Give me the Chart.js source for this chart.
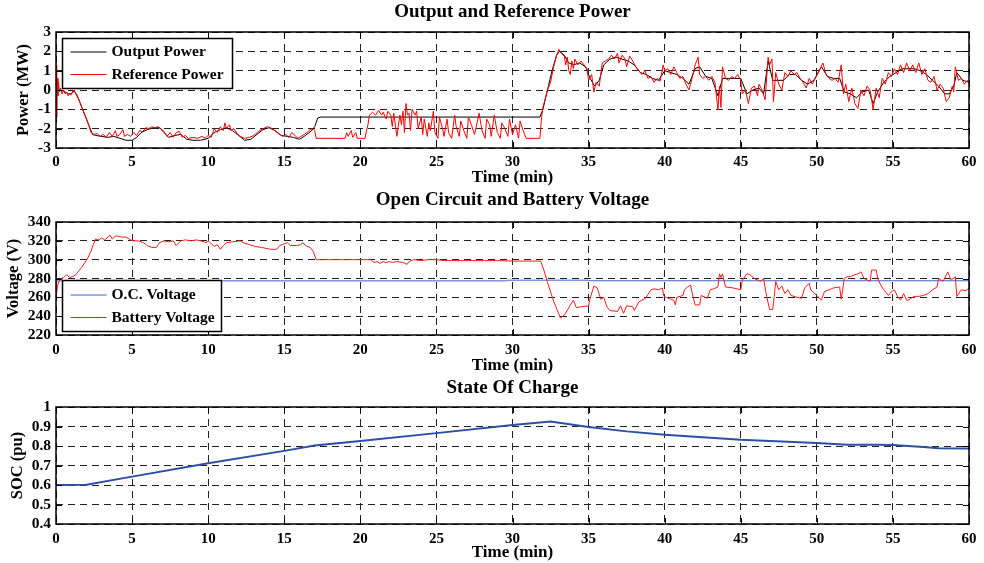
<!DOCTYPE html>
<html>
<head>
<meta charset="utf-8">
<script src="https://cdn.jsdelivr.net/npm/chart.js@4"></script>
<style>
  html, body { margin: 0; padding: 0; background: #fff; }
  .wrap { position: absolute; left: 0; width: 984px; }
</style>
</head>
<body>
<div class="wrap" style="top:0;height:188px"><canvas id="powerChart" width="984" height="188"></canvas></div>
<div class="wrap" style="top:188px;height:188px"><canvas id="voltChart" width="984" height="188"></canvas></div>
<div class="wrap" style="top:376px;height:187px"><canvas id="socChart" width="984" height="187"></canvas></div>
<script>
// ---- data ----
const timeTicks = [0, 5, 10, 15, 20, 25, 30, 35, 40, 45, 50, 55, 60];
const powerTicks = [-3, -2, -1, 0, 1, 2, 3];
const voltTicks = [220, 240, 260, 280, 300, 320, 340];
const socTicks = [0.4, 0.5, 0.6, 0.7, 0.8, 0.9, 1];

// Reference power (MW)
const refTime = [0,0.03,0.06,0.09,0.13,0.17,0.22,0.3,0.4,0.5,0.6,0.7,0.8,0.9,1.0,1.1,1.2,1.3,1.5,1.7,1.9,2.1,2.3,2.5,2.7,2.9,3.1,3.3,3.5,3.7,3.9,4.0,4.2,4.4,4.5,4.7,4.9,5.1,5.3,5.5,5.7,5.9,6.1,6.3,6.5,6.7,6.9,7.1,7.3,7.5,7.7,7.9,8.1,8.3,8.5,8.7,9.0,9.3,9.6,9.8,10.0,10.2,10.4,10.6,10.8,11.0,11.1,11.2,11.4,11.5,11.7,11.9,12.1,12.4,12.7,13.0,13.3,13.6,13.9,14.1,14.3,14.6,14.9,15.1,15.3,15.5,15.7,15.9,16.1,16.3,16.5,16.7,16.9,17.0,17.1,19.0,19.1,19.2,19.4,19.5,19.7,19.8,20.3,20.5,20.6,20.8,21.0,21.2,21.4,21.5,21.7,21.8,22.0,22.1,22.2,22.4,22.6,22.7,22.8,22.9,23.0,23.1,23.2,23.3,23.4,23.6,23.7,23.8,24.0,24.1,24.2,24.4,24.5,24.6,24.8,24.9,25.1,25.2,25.4,25.5,25.7,25.8,26.0,26.2,26.3,26.5,26.6,26.8,27.0,27.1,27.3,27.5,27.7,27.8,28.0,28.2,28.3,28.5,28.6,28.8,29.0,29.2,29.3,29.5,29.7,29.8,30.0,30.2,30.4,30.5,30.7,30.9,31.8,31.9,32.0,32.1,32.3,32.5,32.7,32.9,33.05,33.2,33.4,33.5,33.6,33.7,33.8,33.9,34.0,34.1,34.3,34.5,34.7,34.9,35.0,35.2,35.35,35.5,35.7,35.9,36.1,36.3,36.5,36.7,36.9,37.0,37.2,37.4,37.5,37.7,37.9,38.1,38.3,38.5,38.7,38.9,39.1,39.3,39.5,39.7,39.9,40.0,40.2,40.4,40.6,40.8,41.0,41.2,41.4,41.6,41.8,42.0,42.2,42.3,42.5,42.7,42.9,43.1,43.3,43.5,43.6,43.7,43.8,44.0,44.2,44.4,44.6,44.8,45.0,45.1,45.3,45.5,45.7,45.9,46.1,46.2,46.4,46.6,46.8,46.9,47.05,47.15,47.3,47.5,47.7,47.9,48.1,48.3,48.5,48.7,48.9,49.1,49.3,49.5,49.7,49.9,50.1,50.4,50.6,50.8,51.0,51.2,51.4,51.6,51.75,51.9,52.1,52.3,52.5,52.7,52.9,53.1,53.3,53.5,53.7,53.9,54.1,54.3,54.5,54.7,54.9,55.1,55.3,55.5,55.7,55.9,56.1,56.3,56.5,56.7,56.9,57.1,57.3,57.5,57.7,57.9,58.1,58.3,58.5,58.7,58.9,59.0,59.1,59.3,59.5,59.7,59.9,60.0];
const refPower = [0.0,1.3,-1.4,0.6,-0.3,0.4,-0.1,0.1,-0.2,0.0,-0.2,-0.1,-0.3,-0.2,-0.25,-0.05,0.0,-0.2,-0.5,-0.9,-1.3,-1.7,-2.2,-2.3,-2.25,-2.4,-2.3,-2.45,-2.2,-2.4,-2.1,-2.4,-2.3,-2.05,-2.4,-2.3,-2.4,-2.2,-2.35,-2.1,-2.15,-1.95,-2.0,-1.9,-1.95,-1.9,-2.0,-2.15,-2.4,-2.2,-2.45,-2.2,-2.15,-2.45,-2.35,-2.5,-2.45,-2.5,-2.4,-2.5,-2.35,-2.45,-2.0,-2.2,-1.9,-2.1,-1.7,-2.0,-1.8,-2.1,-2.0,-2.25,-2.4,-2.5,-2.45,-2.35,-2.15,-2.0,-1.9,-1.95,-2.05,-2.25,-2.4,-2.3,-2.45,-2.2,-2.35,-2.5,-2.4,-2.3,-2.2,-2.05,-2.0,-2.1,-2.5,-2.5,-2.2,-2.4,-2.1,-2.45,-2.2,-2.5,-2.5,-1.8,-1.3,-1.15,-1.3,-1.05,-1.3,-1.15,-1.5,-1.1,-1.3,-1.9,-1.2,-2.4,-1.3,-1.8,-1.1,-2.2,-0.7,-1.3,-1.2,-2.1,-1.0,-1.3,-1.1,-2.0,-1.4,-2.3,-1.5,-2.4,-1.7,-2.1,-1.1,-2.2,-2.5,-1.4,-2.0,-2.4,-1.5,-2.2,-2.5,-1.3,-1.9,-2.4,-1.6,-2.1,-2.5,-1.4,-1.8,-2.3,-1.6,-1.2,-2.1,-2.5,-1.5,-1.8,-2.4,-1.3,-2.2,-2.5,-1.7,-2.0,-2.4,-1.5,-2.3,-1.8,-2.5,-1.6,-2.1,-2.5,-2.5,-1.5,-0.9,-0.6,0.0,0.4,1.2,1.8,2.1,1.9,1.75,1.3,1.7,1.0,0.8,1.5,1.1,1.6,1.3,1.5,1.3,1.1,0.5,0.8,-0.1,0.4,0.2,1.4,1.5,1.6,1.8,1.6,1.9,1.4,1.8,1.6,1.2,1.75,1.5,1.2,1.0,0.8,1.0,0.6,0.7,0.4,0.6,0.45,1.3,1.0,1.1,0.8,1.2,0.9,0.6,0.7,0.3,0.0,0.6,1.3,1.7,0.8,0.6,0.7,0.5,0.7,0.4,-1.0,0.2,-0.9,1.2,0.6,0.5,0.7,0.6,0.8,0.5,-0.2,0.0,-0.7,0.1,0.2,-0.3,0.3,0.0,-0.5,1.7,1.3,1.6,-0.6,0.9,0.3,0.0,0.9,0.7,1.0,0.8,0.9,0.6,0.4,0.1,0.6,0.3,0.6,0.9,1.4,0.8,0.6,0.5,0.6,0.4,1.3,-0.2,0.3,-0.6,0.1,-0.7,-0.95,0.0,-0.3,0.2,0.0,-1.0,0.1,-0.4,0.6,0.3,0.9,0.7,1.1,0.8,1.3,0.9,1.4,1.0,1.3,0.9,1.4,0.8,1.1,0.5,0.4,0.7,0.0,0.3,0.1,-0.6,-0.4,0.2,-0.1,1.2,0.5,0.6,0.3,0.5,0.4];

// Output power (MW)
const outTime = [0,0.1,0.2,0.5,0.8,1.0,1.2,1.4,1.6,1.8,2.0,2.2,2.4,2.6,3.0,3.4,3.8,4.2,4.6,5.0,5.3,5.6,6.0,6.4,6.8,7.1,7.4,7.8,8.2,8.6,9.0,9.5,10.0,10.4,10.8,11.2,11.6,12.0,12.4,12.8,13.2,13.6,14.0,14.4,14.8,15.2,15.6,16.0,16.4,16.8,17.0,17.2,17.4,31.8,32.0,32.3,32.6,32.9,33.1,33.4,33.7,34.0,34.4,34.8,35.1,35.4,35.7,36.0,36.4,36.8,37.2,37.6,38.0,38.4,38.8,39.2,39.6,40.0,40.4,40.8,41.2,41.6,42.0,42.3,42.7,43.1,43.5,43.8,44.2,44.6,45.0,45.4,45.8,46.2,46.5,46.8,47.1,47.4,47.8,48.2,48.6,49.0,49.4,49.8,50.3,50.7,51.1,51.5,51.8,52.2,52.6,53.0,53.4,53.7,54.0,54.4,54.8,55.2,55.6,56.0,56.4,56.8,57.2,57.6,58.0,58.4,58.7,59.0,59.2,59.6,60.0];
const outPower = [0.0,0.2,0.0,-0.05,-0.2,-0.2,-0.05,-0.3,-0.7,-1.1,-1.5,-1.9,-2.3,-2.35,-2.4,-2.45,-2.4,-2.5,-2.6,-2.6,-2.45,-2.2,-2.05,-1.95,-1.95,-2.2,-2.45,-2.35,-2.3,-2.55,-2.6,-2.6,-2.5,-2.2,-2.05,-1.95,-2.1,-2.35,-2.6,-2.55,-2.3,-2.05,-1.95,-2.1,-2.35,-2.4,-2.45,-2.55,-2.35,-2.1,-1.9,-1.45,-1.4,-1.4,-1.0,0.0,1.0,1.8,2.0,1.8,1.4,1.3,1.4,1.2,0.6,0.2,0.5,1.3,1.6,1.7,1.6,1.5,1.3,0.9,0.8,0.6,0.5,1.0,0.9,0.8,0.6,0.3,1.1,1.2,0.7,0.6,-0.3,0.6,0.6,0.6,0.6,-0.2,0.0,0.1,-0.2,1.5,0.5,0.5,0.5,0.8,0.8,0.5,0.3,0.5,1.2,0.7,0.6,0.6,-0.1,-0.2,-0.4,-0.1,0.0,-0.7,-0.1,0.4,0.7,0.9,1.1,1.1,1.1,1.0,0.8,0.5,0.2,-0.2,-0.2,0.2,0.9,0.5,0.4];

// Battery voltage (V)
const batTime = [0,0.03,0.1,0.2,0.35,0.5,0.7,0.9,1.1,1.3,1.5,1.7,1.9,2.1,2.3,2.45,2.6,2.8,3.0,3.2,3.35,3.55,3.7,3.9,4.1,4.3,4.6,4.9,5.1,5.4,5.75,6.0,6.3,6.6,6.8,7.1,7.4,7.7,7.9,8.2,8.5,8.9,9.2,9.5,9.9,10.0,10.2,10.4,10.6,10.8,11.0,11.2,11.6,12.1,12.3,12.7,13.1,13.5,13.8,14.1,14.5,14.7,15.0,15.2,15.4,15.8,16.1,16.2,16.5,16.7,16.9,17.1,20.7,20.9,21.1,21.3,21.5,21.7,21.9,22.1,22.4,22.8,23.07,23.2,23.5,24.0,24.5,25.0,25.5,26.1,27.0,28.0,29.0,30.1,31.85,32.06,32.3,32.7,33.15,33.4,33.7,34.0,34.2,34.5,35.0,35.1,35.35,35.57,35.8,36.0,36.2,36.4,36.9,37.1,37.3,37.5,37.9,38.0,38.3,38.5,38.75,38.9,39.1,39.3,39.6,39.85,39.95,40.1,40.4,40.6,40.7,40.8,41.2,41.3,41.5,41.7,41.8,42.0,42.3,42.4,42.8,43.0,43.2,43.5,43.6,43.7,43.8,44.0,44.5,45.0,45.1,45.4,45.6,45.9,46.3,46.5,46.7,46.9,47.1,47.2,47.3,47.5,47.7,47.9,48.1,48.3,48.7,49.0,49.2,49.5,49.6,50.0,50.3,50.5,50.8,51.1,51.5,51.6,51.7,51.8,52.0,52.2,52.5,52.7,52.9,53.1,53.5,53.6,53.9,54.0,54.2,54.4,54.7,54.9,55.1,55.3,55.5,55.7,55.9,56.0,56.4,56.7,57.0,57.3,57.6,57.9,58.0,58.3,58.6,58.8,59.0,59.1,59.2,59.5,59.8,60.0];
const batVolt = [275,263,272,277,280,281,284,281,282,284,288,292,297,302,309,316,322,321,323,321,323,326,322,325,325,324,324,321,320,320,318,315,313,313,318,320,319,320,315,320,321,320,321,320,318,320,317,314,316,311,315,318,319,320,318,316,314,313,312,311,311,315,317,318,315,315,316,318,314,313,309,300,300,297,298,296,298,297,298,297,298,297,295,298,300,299,300,300,299,299,299,299,299,298.5,298.5,289,276,256,238,241,249,257,249,250,251,259,272,270,258,260,250,246,245,251,243,251,250,246,255,257,259,263,268,269,268,270,261,260,258,257,252,260,262,268,271,273,265,252,252,262,259,268,269,271,285,281,285,271,270,268,278,285,284,280,277,280,261,247,247,261,277,268,272,264,268,262,260,259,270,275,268,262,257,266,268,270,271,258,268,280,282,282,284,285,287,280,277,289,289,280,273,268,262,266,268,261,257,264,257,257,261,261,262,264,268,271,280,277,287,279,280,282,261,268,267,270];

// Open circuit voltage (V)
const ocTime = [0, 0.05, 29.6, 29.7, 35.0, 35.1, 60];
const ocVolt = [276, 277.5, 277.5, 278.2, 278.2, 277.6, 277.6];

// State of charge (pu)
const socTime = [0, 2, 5, 10, 15, 17, 20, 25, 30, 32.5, 35, 37.5, 40, 45, 50, 52, 54, 55, 57, 58, 60];
const socVal = [0.6, 0.601, 0.643, 0.711, 0.775, 0.802, 0.826, 0.866, 0.908, 0.926, 0.897, 0.875, 0.858, 0.832, 0.815, 0.806, 0.806, 0.805, 0.795, 0.789, 0.787];

// ---- helpers ----
const FONT = "'Liberation Serif', 'Times New Roman', serif";
function pts(xs, ys) { return xs.map((x, i) => ({ x: x, y: ys[i] })); }

// box, inward tick marks, title and boxed legend (matlab look)
const matlabFrame = {
  id: 'matlabFrame',
  afterDraw(chart, args, opts) {
    const ctx = chart.ctx, a = chart.chartArea;
    const xs = chart.scales.x, ys = chart.scales.y;
    ctx.save();
    ctx.strokeStyle = '#000';
    ctx.lineWidth = 1;
    ctx.setLineDash([]);
    ctx.beginPath();
    xs.ticks.forEach(t => {
      const px = Math.round(xs.getPixelForValue(t.value)) + 0.5;
      ctx.moveTo(px, a.top); ctx.lineTo(px, a.top + 6);
      ctx.moveTo(px, a.bottom); ctx.lineTo(px, a.bottom - 6);
    });
    ys.ticks.forEach(t => {
      const py = Math.round(ys.getPixelForValue(t.value)) + 0.5;
      ctx.moveTo(a.left, py); ctx.lineTo(a.left + 6, py);
      ctx.moveTo(a.right, py); ctx.lineTo(a.right - 6, py);
    });
    ctx.stroke();
    ctx.lineWidth = 1.5;
    ctx.strokeRect(a.left, a.top, a.right - a.left, a.bottom - a.top);

    // title
    ctx.fillStyle = '#000';
    ctx.font = 'bold 19px ' + FONT;
    ctx.textAlign = 'center';
    ctx.textBaseline = 'middle';
    ctx.fillText(opts.title, (a.left + a.right) / 2, opts.titleY);

    // legend
    if (opts.legend) {
      const L = opts.legend;
      ctx.fillStyle = '#fff';
      ctx.fillRect(L.x, L.y, L.w, L.h);
      ctx.strokeStyle = '#000';
      ctx.lineWidth = 1.5;
      ctx.strokeRect(L.x, L.y, L.w, L.h);
      ctx.font = 'bold 15.5px ' + FONT;
      ctx.textAlign = 'left';
      chart.data.datasets.forEach((ds, i) => {
        const yy = L.y + L.rows[i];
        ctx.strokeStyle = ds.borderColor;
        ctx.lineWidth = 1;
        ctx.beginPath();
        ctx.moveTo(L.x + 8, yy); ctx.lineTo(L.x + 44, yy);
        ctx.stroke();
        ctx.fillStyle = '#000';
        ctx.fillText(ds.label, L.x + 49, yy);
      });
    }
    ctx.restore();
  }
};

function makeChart(id, datasets, yTicks, yLabel, cfg) {
  return new Chart(document.getElementById(id), {
    type: 'line',
    data: { datasets: datasets },
    options: {
      responsive: false,
      animation: false,
      events: [],
      layout: { padding: { top: cfg.top, right: 15, bottom: 0, left: 0 } },
      elements: { point: { radius: 0 }, line: { tension: 0, borderWidth: 1 } },
      plugins: {
        legend: { display: false },
        tooltip: { enabled: false },
        matlabFrame: { title: cfg.title, titleY: 12, legend: cfg.legend }
      },
      scales: {
        x: {
          type: 'linear',
          min: timeTicks[0], max: timeTicks[timeTicks.length - 1],
          afterBuildTicks: s => { s.ticks = timeTicks.map(v => ({ value: v })); },
          afterFit: s => { s.height = cfg.xh; },
          grid: { color: '#222', lineWidth: 1, drawTicks: false },
          border: { display: false, dash: [7, 5] },
          ticks: { color: '#000', padding: cfg.xpad, autoSkip: false, maxRotation: 0, font: { family: FONT, size: 15, weight: 'bold' } },
          title: { display: true, text: 'Time (min)', color: '#000', padding: { top: 0, bottom: cfg.tpad }, font: { family: FONT, size: 17, weight: 'bold' } }
        },
        y: {
          type: 'linear',
          min: yTicks[0], max: yTicks[yTicks.length - 1],
          afterBuildTicks: s => { s.ticks = yTicks.map(v => ({ value: v })); },
          afterFit: s => { s.width = 56; },
          grid: { color: '#222', lineWidth: 1, drawTicks: false },
          border: { display: false, dash: [7, 5] },
          ticks: { color: '#000', padding: 5, autoSkip: false, font: { family: FONT, size: 15.5, weight: 'bold' }, callback: v => String(Math.round(v * 10) / 10) },
          title: { display: true, text: yLabel, color: '#000', padding: { top: cfg.ypad, bottom: 0 }, font: { family: FONT, size: 16.5, weight: 'bold' } }
        }
      }
    },
    plugins: [matlabFrame]
  });
}

makeChart('powerChart', [
  { label: 'Output Power', data: pts(outTime, outPower), borderColor: '#000', order: 1 },
  { label: 'Reference Power', data: pts(refTime, refPower), borderColor: '#ff0000', order: 0 }
], powerTicks, 'Power (MW)', {
  top: 32, xh: 40, xpad: 5, tpad: 0, ypad: 14, title: 'Output and Reference Power',
  legend: { x: 62.5, y: 38.5, w: 170, h: 50, rows: [13.5, 36] }
});

makeChart('voltChart', [
  { label: 'O.C. Voltage', data: pts(ocTime, ocVolt), borderColor: '#3f63c4', order: 1 },
  { label: 'Battery Voltage', data: pts(batTime, batVolt), borderColor: '#ff1a1a', order: 0 }
], voltTicks, 'Voltage (V)', {
  top: 34, xh: 41, xpad: 6, tpad: 0, ypad: 4, title: 'Open Circuit and Battery Voltage',
  legend: { x: 62.5, y: 92.5, w: 159, h: 51, rows: [14.5, 37] }
});

makeChart('socChart', [
  { label: 'SOC', data: pts(socTime, socVal), borderColor: '#2c4ea6', borderWidth: 2 }
], socTicks, 'SOC (pu)', {
  top: 31, xh: 39, xpad: 6, tpad: 0, ypad: 8, title: 'State Of Charge', legend: null
});
</script>
</body>
</html>
